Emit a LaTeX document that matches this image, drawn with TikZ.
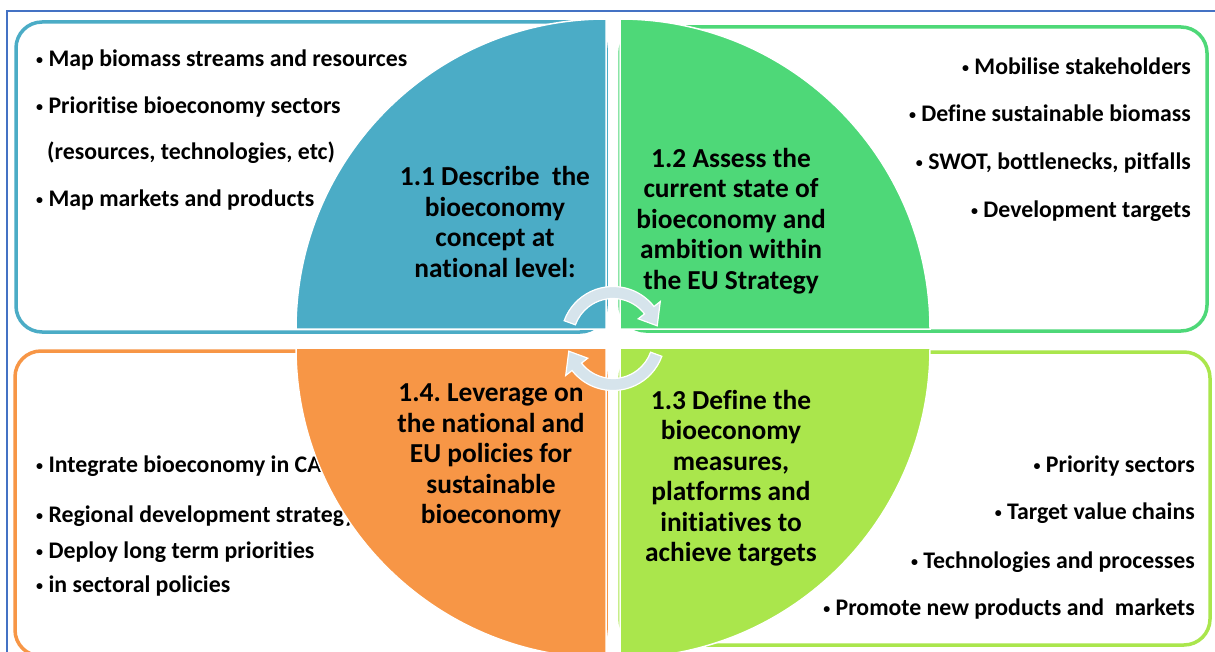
\documentclass[tikz,border=0pt]{standalone}
\usepackage{fontspec}
\setmainfont{Carlito}[Ligatures={NoCommon}]
\usetikzlibrary{calc}
\usetikzlibrary{positioning}

\definecolor{qblue}{RGB}{75,172,198}
\definecolor{qgreen}{RGB}{78,216,120}
\definecolor{qlime}{RGB}{170,230,76}
\definecolor{qorange}{RGB}{247,150,70}
\definecolor{cycfill}{RGB}{214,228,236}
\definecolor{framecol}{RGB}{68,114,196}

\newcommand{\itembul}{\raisebox{2pt}{\fontsize{14}{14}\selectfont •}\ }

\begin{document}
\frenchspacing
\begin{tikzpicture}[x=1pt,y=-1pt,
    box/.style={line width=3.5pt, rounded corners=26pt},
    quad/.style={draw=white, line width=1.5pt},
    item/.style={font=\fontsize{23.8}{27}\selectfont\bfseries, inner sep=0pt, anchor=base west},
    itemr/.style={item, anchor=base east},
    head/.style={font=\fontsize{27.4}{30.5}\selectfont\bfseries, align=center, inner sep=0pt},
    cyc/.style={fill=cycfill, draw=white, line width=1.2pt}
  ]
  \clip (0,0) rectangle (1215,652);
  \fill[white] (0,0) rectangle (1215,652);
  \draw[framecol, line width=2pt] (7,652) -- (7,11) -- (1215,11);

  % outlined boxes behind the quarters
  \draw[box, qblue] (16,22) rectangle (606,332);
  \draw[box, qgreen] (620,27) rectangle (1207,331);
  \draw[box, qorange] (15,351) rectangle (606,656);
  \draw[box, qlime] (620,352) rectangle (1210,645);

  \node[item] (b1) at (36,67) {\itembul Map biomass streams and resources};
  \node[item] (b2) at (36,114) {\itembul Prioritise bioeconomy sectors};
  \node[item] (b3) at (47,160) {(resources, technologies, etc)};
  \node[item] (b4) at (36,207) {\itembul Map markets and products};

  \node[itemr] (s1) at (1191,75) {\itembul Mobilise stakeholders};
  \node[itemr] (s2) at (1191,122) {\itembul Define sustainable biomass};
  \node[itemr] (s3) at (1191,170) {\itembul SWOT, bottlenecks, pitfalls};
  \node[itemr] (s4) at (1191,218) {\itembul Development targets};

  \node[item] (p1) at (36,472) {\itembul Integrate bioeconomy in CAP};
  \node[item] (p2) at (36,522) {\itembul Regional development strategy};
  \node[item] (p3) at (36,558) {\itembul Deploy long term priorities};
  \node[item] (p4) at (36,592) {\itembul in sectoral policies};

  \node[itemr] (m1) at (1195,472) {\itembul Priority sectors};
  \node[itemr] (m2) at (1195,519) {\itembul Target value chains};
  \node[itemr] (m3) at (1195,568) {\itembul Technologies and processes};
  \node[itemr] (m4) at (1195,615) {\itembul Promote new products and\ \ markets};

  % the four quarters
  \filldraw[qblue, quad] (606,329) -- (296,329) arc[start angle=180, end angle=90, radius=310pt] -- cycle;
  \filldraw[qgreen, quad] (620,329) -- (620,19) arc[start angle=90, end angle=0, radius=310pt] -- cycle;
  \filldraw[qorange, quad] (606,348) -- (296,348) arc[start angle=180, end angle=270, radius=310pt] -- cycle;
  \filldraw[qlime, quad] (620,348) -- (930,348) arc[start angle=0, end angle=-90, radius=310pt] -- cycle;

  \node[head] (h1) at (495,222) {1.1 Describe\ \ the\\bioeconomy\\concept at\\national level:};
  \node[head] (h2) at (731,221) {1.2 Assess the\\current state of\\bioeconomy and\\ambition within\\the EU Strategy};
  \node[head] (h3) at (731,478) {1.3 Define the\\bioeconomy\\measures,\\platforms and\\initiatives to\\achieve targets};
  \node[head] (h4) at (491,456) {1.4. Leverage on\\the national and\\EU policies for\\sustainable\\bioeconomy};

  % cycle arrows
  \coordinate (ctr) at (613,338.5);
  \foreach \a in {0,180} {
    \filldraw[cyc] ($(ctr)+(160+\a:52pt)$) arc[start angle=160+\a, end angle=38+\a, radius=52pt]
      -- ($(ctr)+(38+\a:60pt)$) -- ($(ctr)+(16+\a:46pt)$) -- ($(ctr)+(38+\a:32pt)$)
      -- ($(ctr)+(38+\a:40pt)$) arc[start angle=38+\a, end angle=160+\a, radius=40pt] -- cycle;
  }
\end{tikzpicture}
\end{document}
